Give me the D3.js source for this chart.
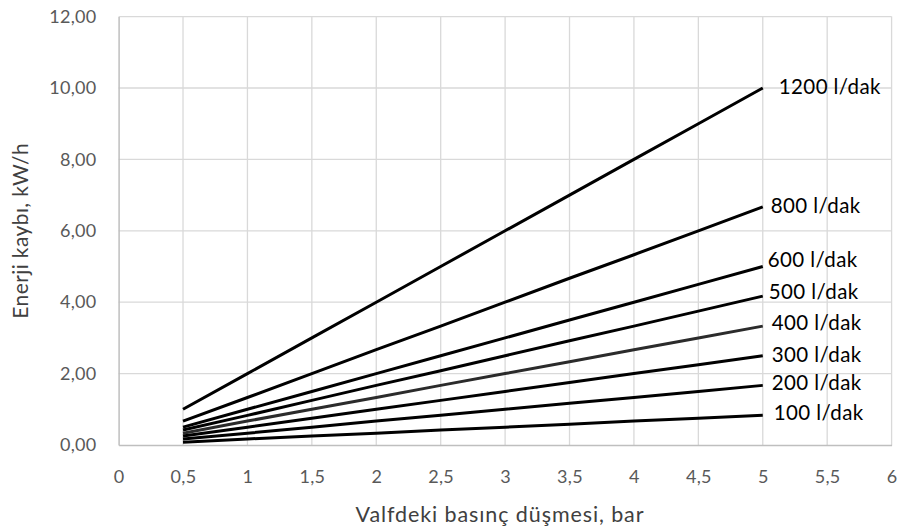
<!DOCTYPE html>
<html><head><meta charset="utf-8">
<script src="https://cdn.jsdelivr.net/npm/d3@7"></script>
<style>
body{margin:0;background:#fff;}
svg{display:block;font-family:Lato,"Open Sans",sans-serif;}
</style></head>
<body><svg id="c" width="900" height="531"></svg>
<script>
const pressures = [0.5,1,1.5,2,2.5,3,3.5,4,4.5,5];
const seriesNames = ["1200 l/dak","800 l/dak","600 l/dak","500 l/dak","400 l/dak","300 l/dak","200 l/dak","100 l/dak"];
const s1200 = [1.00,2.00,3.00,4.00,5.00,6.00,7.00,8.00,9.00,10.00];
const s800  = [0.67,1.33,2.00,2.67,3.33,4.00,4.67,5.33,6.00,6.67];
const s600  = [0.50,1.00,1.50,2.00,2.50,3.00,3.50,4.00,4.50,5.00];
const s500  = [0.42,0.83,1.25,1.67,2.08,2.50,2.92,3.33,3.75,4.17];
const s400  = [0.33,0.67,1.00,1.33,1.67,2.00,2.33,2.67,3.00,3.33];
const s300  = [0.25,0.50,0.75,1.00,1.25,1.50,1.75,2.00,2.25,2.50];
const s200  = [0.17,0.33,0.50,0.67,0.83,1.00,1.17,1.33,1.50,1.67];
const s100  = [0.08,0.17,0.25,0.33,0.42,0.50,0.58,0.67,0.75,0.83];
const labelValues = [10.05,6.7,5.2,4.31,3.43,2.54,1.76,0.92];
const xTicks = [0,0.5,1,1.5,2,2.5,3,3.5,4,4.5,5,5.5,6];
const yTicks = [0,2,4,6,8,10,12];
const xTitle = "Valfdeki basınç düşmesi, bar";
const yTitle = "Enerji kaybı, kW/h";

const allSeries = [s1200,s800,s600,s500,s400,s300,s200,s100];
const colors = ["#000","#000","#000","#000","#2b2b2b","#000","#000","#000"];
const labelDx = [16,8,5,6,9,9,9,11];

const svg = d3.select("#c");
const x = d3.scaleLinear().domain([0,6]).range([118.6,891.6]);
const y = d3.scaleLinear().domain([0,12]).range([445,16.6]);
const fmt = v => String(v).replace(".",",");
const fmtY = v => v.toFixed(2).replace(".",",");

// gridlines
svg.append("g").selectAll("line").data(xTicks.filter(d=>d>0)).join("line")
  .attr("x1",d=>x(d)).attr("x2",d=>x(d)).attr("y1",y(0)).attr("y2",y(12))
  .attr("stroke","#d9d9d9").attr("stroke-width",1.3);
svg.append("g").selectAll("line").data(yTicks.filter(d=>d>0)).join("line")
  .attr("x1",x(0)).attr("x2",x(6)).attr("y1",d=>y(d)).attr("y2",d=>y(d))
  .attr("stroke","#d9d9d9").attr("stroke-width",1.3);

// axes
const xAxis = svg.append("g").attr("transform",`translate(0,${y(0)})`)
  .call(d3.axisBottom(x).tickValues(xTicks).tickFormat(fmt).tickSize(0).tickPadding(25));
const yAxis = svg.append("g").attr("transform",`translate(${x(0)},0)`)
  .call(d3.axisLeft(y).tickValues(yTicks).tickFormat(fmtY).tickSize(0).tickPadding(22));
xAxis.select(".domain").attr("stroke","#bfbfbf").attr("stroke-width",1.5);
yAxis.select(".domain").attr("stroke","#bfbfbf").attr("stroke-width",1.5);
[xAxis,yAxis].forEach(a=>a.selectAll("text").attr("fill","#595959").attr("font-size",18)
  .attr("letter-spacing","0.3px")
  .attr("font-family","Lato,'Open Sans',sans-serif"));

// lines
const line = d3.line().x((d,i)=>x(pressures[i])).y(d=>y(d));
svg.append("g").selectAll("path").data(allSeries).join("path")
  .attr("d",d=>line(d)).attr("fill","none")
  .attr("stroke",(d,i)=>colors[i]).attr("stroke-width",3);

// labels
svg.append("g").selectAll("text").data(seriesNames).join("text")
  .attr("x",(d,i)=>x(5)+labelDx[i])
  .attr("y",(d,i)=>y(labelValues[i]))
  .attr("dy","0.36em").attr("font-size",20.5).attr("fill","#000")
  .attr("letter-spacing","0.4px")
  .text(d=>d);

// titles
svg.append("text").attr("x",500).attr("y",522).attr("text-anchor","middle")
  .attr("font-size",21.5).attr("letter-spacing","0.9px").attr("fill","#404040").text(xTitle);
svg.append("text").attr("transform",`translate(28,${y(6)}) rotate(-90)`)
  .attr("text-anchor","middle").attr("font-size",21).attr("letter-spacing","0.4px")
  .attr("fill","#404040").text(yTitle);
</script></body></html>
